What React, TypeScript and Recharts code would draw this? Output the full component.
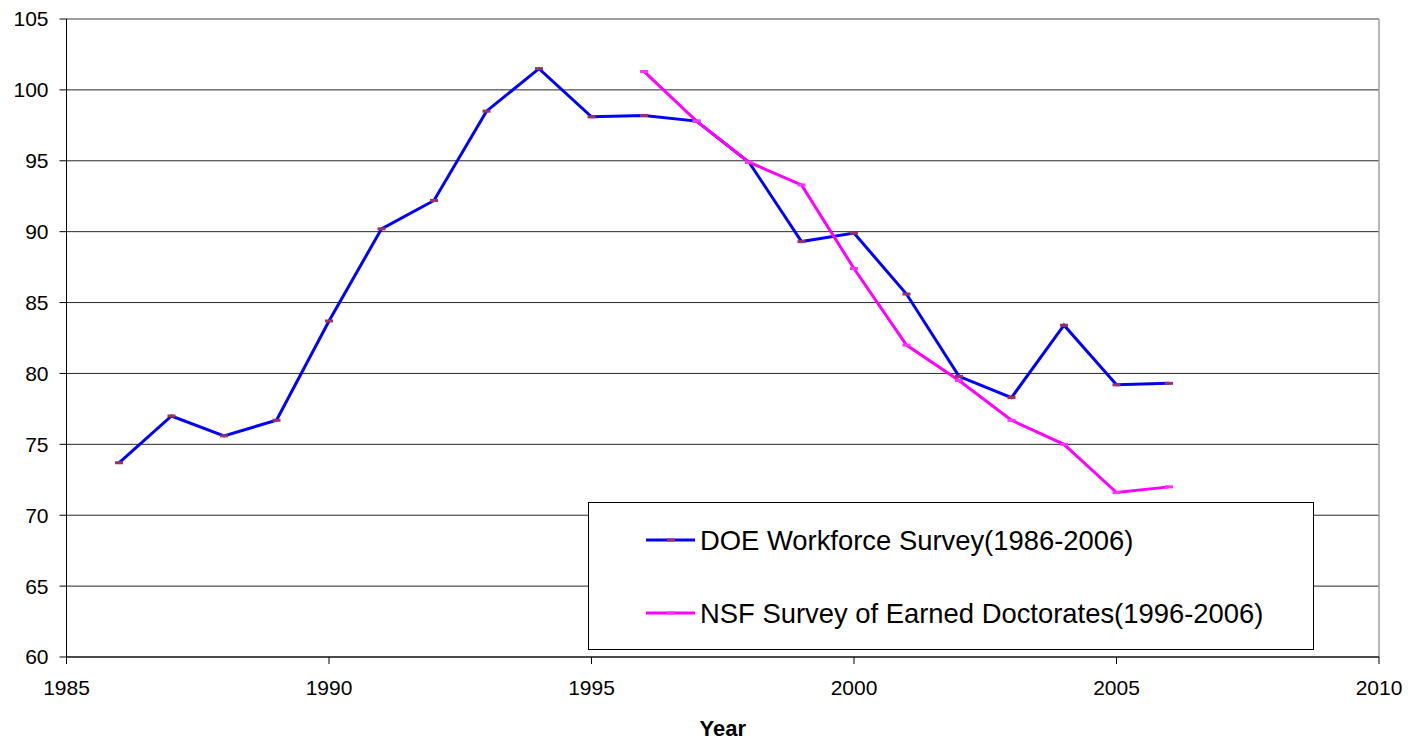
import {
    LineChart,
    Line,
    XAxis,
    YAxis,
    CartesianGrid,
    ReferenceLine,
    Label
} from 'recharts';

const YEARS = [1986, 1987, 1988, 1989, 1990, 1991, 1992, 1993, 1994, 1995, 1996, 1997, 1998, 1999, 2000, 2001, 2002, 2003, 2004, 2005, 2006];
const DOE_VALUES = [73.7, 77.0, 75.6, 76.7, 83.7, 90.2, 92.2, 98.5, 101.5, 98.1, 98.2, 97.8, 94.9, 89.3, 89.9, 85.6, 79.8, 78.3, 83.4, 79.2, 79.3];
const NSF_YEARS = [1996, 1997, 1998, 1999, 2000, 2001, 2002, 2003, 2004, 2005, 2006];
const NSF_VALUES = [101.3, 97.8, 94.9, 93.3, 87.4, 82.0, 79.5, 76.7, 75.0, 71.6, 72.0];

const X_TICKS = [1985, 1990, 1995, 2000, 2005, 2010];
const Y_TICKS = [60, 65, 70, 75, 80, 85, 90, 95, 100, 105];

const DOE_NAME = 'DOE Workforce Survey(1986-2006)';
const NSF_NAME = 'NSF Survey of Earned Doctorates(1996-2006)';

const FONT = '"Liberation Sans", Arial, sans-serif';

const data = YEARS.map((year, i) => {
    const j = NSF_YEARS.indexOf(year);
    return {
        year,
        doe: DOE_VALUES[i],
        nsf: j >= 0 ? NSF_VALUES[j] : null,
    };
});

// small flat dash marker like the excel original
const dashDot = (color: string) => (props: any) => {
    const { cx, cy, index } = props;
    if (cx == null || cy == null) return <g key={`d-${index}`} />;
    return <rect key={`d-${index}`} x={cx - 4} y={cy - 1.5} width={8} height={3} fill={color} />;
};

const LegendBox = () => {
    const rows = [
        { name: DOE_NAME, line: '#0000FF', mark: '#993366', y: 38 },
        { name: NSF_NAME, line: '#FF00FF', mark: '#FF33FF', y: 111 },
    ];
    return (
        <svg width={726} height={148} style={{ display: 'block' }}>
            <rect x={0.5} y={0.5} width={725} height={147} fill="#fff" stroke="#000" strokeWidth={1} />
            {rows.map((r) => (
                <g key={r.name}>
                    <line x1={58} x2={107} y1={r.y} y2={r.y} stroke={r.line} strokeWidth={3} />
                    <rect x={79} y={r.y - 1.5} width={8} height={3} fill={r.mark} />
                    <text x={112} y={r.y} dominantBaseline="central" fontSize={27.4} fontFamily={FONT} fill="#000">
                        {r.name}
                    </text>
                </g>
            ))}
        </svg>
    );
};

const App = () => {
    return (
        <div style={{ position: 'relative', width: 1408, height: 742, background: '#fff' }}>
            <style>{`body{margin:0;}`}</style>
            <LineChart
                width={1408}
                height={742}
                data={data}
                margin={{ top: 19, right: 29, left: 0, bottom: 0 }}
                style={{ fontFamily: FONT }}
            >
                <CartesianGrid vertical={false} stroke="#000" strokeOpacity={0.85} />
                <ReferenceLine y={105} stroke="#a0a0a0" strokeWidth={1.5} />
                <ReferenceLine x={2010} stroke="#a0a0a0" strokeWidth={1.5} />
                <XAxis
                    dataKey="year"
                    type="number"
                    domain={[1985, 2010]}
                    ticks={X_TICKS}
                    height={85}
                    tickSize={7}
                    tickMargin={16}
                    stroke="#000"
                    tick={{ fill: '#000', fontSize: 21 }}
                >
                    <Label value="Year" position="insideBottom" offset={6} style={{ fontWeight: 'bold', fontSize: 22, fill: '#000' }} />
                </XAxis>
                <YAxis
                    type="number"
                    domain={[60, 105]}
                    ticks={Y_TICKS}
                    width={66.5}
                    tickSize={7}
                    tickMargin={11}
                    stroke="#000"
                    tick={{ fill: '#000', fontSize: 21 }}
                />
                <Line
                    dataKey="doe"
                    name={DOE_NAME}
                    stroke="#0000FF"
                    strokeWidth={3}
                    dot={dashDot('#993366')}
                    activeDot={false}
                    isAnimationActive={false}
                />
                <Line
                    dataKey="nsf"
                    name={NSF_NAME}
                    stroke="#FF00FF"
                    strokeWidth={3}
                    dot={dashDot('#FF33FF')}
                    activeDot={false}
                    isAnimationActive={false}
                />
            </LineChart>
            <div style={{ position: 'absolute', left: 588, top: 502 }}>
                <LegendBox />
            </div>
        </div>
    );
};

export default App;
